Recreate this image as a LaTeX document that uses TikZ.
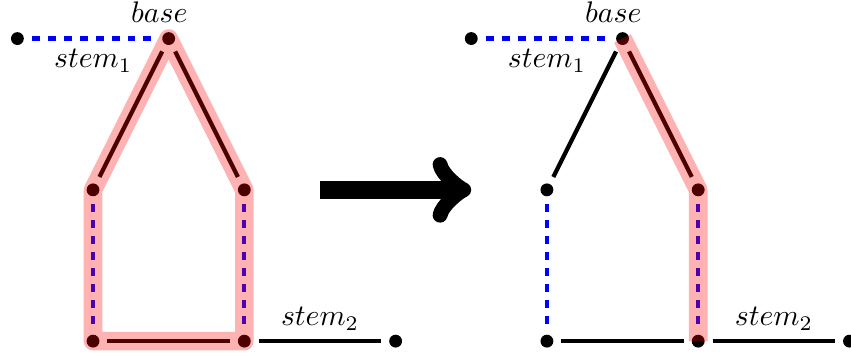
\RequirePackage{fix-cm}
\documentclass[tikz,border=0pt]{standalone}
\usepackage{xcolor}
\usetikzlibrary{calc}

\begin{document}
\begin{tikzpicture}[
  font=\fontsize{11.2}{13.4}\selectfont,
  dot/.style={circle,fill=black,inner sep=0pt,minimum size=0.17cm,outer sep=3pt},
  edge/.style={line width=1.6pt,draw=black},
  stem/.style={line width=1.6pt,draw=blue,dashed},
  mark path/.style={line width=7pt,draw=red,draw opacity=0.3,line join=round},
  bigarrow/.style={->,line width=7pt},
  base label/.style={label={[xshift=-3.5pt,yshift=-2.8pt]above:$base$}}
]
\useasboundingbox (-1.23,-0.2) rectangle (10.02,4.51);

% Left graph
\node[dot] (s1a) at (-1,4) {};
\node[dot,base label] (basea) at (1,4) {};
\node[dot] (la) at (0,2) {};
\node[dot] (ra) at (2,2) {};
\node[dot] (bla) at (0,0) {};
\node[dot] (bra) at (2,0) {};
\node[dot] (s2a) at (4,0) {};

\draw[stem] (s1a) -- node[below] {$stem_1$} (basea);
\draw[edge] (basea) -- (la);
\draw[edge] (basea) -- (ra);
\draw[stem] (la) -- (bla);
\draw[stem] (ra) -- (bra);
\draw[edge] (bla) -- (bra);
\draw[edge] (bra) -- node[above] {$stem_2$} (s2a);

% Right graph
\node[dot] (s1b) at (5,4) {};
\node[dot,base label] (baseb) at (7,4) {};
\node[dot] (lb) at (6,2) {};
\node[dot] (rb) at (8,2) {};
\node[dot] (blb) at (6,0) {};
\node[dot] (brb) at (8,0) {};
\node[dot] (s2b) at (10,0) {};

\draw[stem] (s1b) -- node[below] {$stem_1$} (baseb);
\draw[edge] (baseb) -- (lb);
\draw[edge] (baseb) -- (rb);
\draw[stem] (lb) -- (blb);
\draw[stem] (rb) -- (brb);
\draw[edge] (blb) -- (brb);
\draw[edge] (brb) -- node[above] {$stem_2$} (s2b);

% Highlighted cycle and path
\draw[mark path] (basea.center) -- (ra.center) -- (bra.center) -- (bla.center)
  -- (la.center) -- cycle;
\draw[mark path] (baseb.center) -- (rb.center) -- (brb.center);

% Transformation arrow
\coordinate (from) at (3,2);
\coordinate (to) at (5,2);
\draw[bigarrow] (from) -- (to);
\end{tikzpicture}
\end{document}
